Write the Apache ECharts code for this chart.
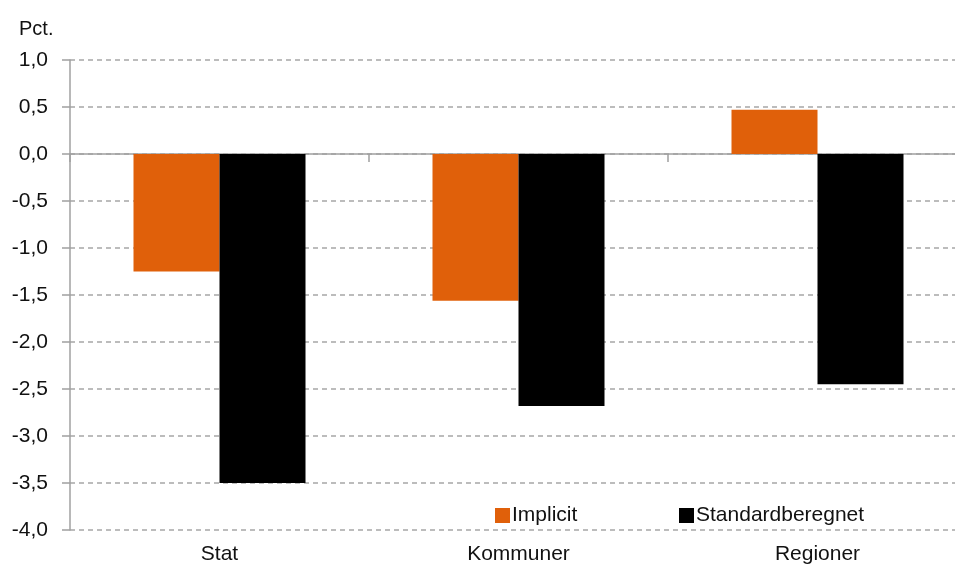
<!DOCTYPE html>
<html>
<head>
<meta charset="utf-8">
<script src="https://cdn.jsdelivr.net/npm/echarts@6/dist/echarts.min.js"></script>
<style>html,body{margin:0;padding:0;background:#fff;overflow:hidden;width:955px;height:572px}#c{width:967px;height:572px}</style>
</head>
<body>
<div id="c"></div>
<script>
const categories = ['Stat', 'Kommuner', 'Regioner'];
const implicitValues = [-1.25, -1.56, 0.47];
const standardValues = [-3.5, -2.68, -2.45];
const seriesNames = ['Implicit', 'Standardberegnet'];
const yTicks = [-4.0, -3.5, -3.0, -2.5, -2.0, -1.5, -1.0, -0.5, 0.0, 0.5, 1.0];

const FONT = '"Liberation Sans", Arial, sans-serif';
const TXT = '#111';
const FS = 21;
const chart = echarts.init(document.getElementById('c'), null, {renderer: 'canvas'});
chart.setOption({
  animation: false,
  backgroundColor: '#fff',
  title: {text: 'Pct.', left: 14, top: 14, textStyle: {fontFamily: FONT, fontSize: 20, fontWeight: 'normal', color: TXT}},
  legend: [
    {data: [seriesNames[0]], left: 490, top: 500, itemWidth: 15, itemHeight: 15, itemGap: 0,
     textStyle: {fontFamily: FONT, fontSize: FS, color: TXT, padding: [0, 0, 0, -3]}, icon: 'rect'},
    {data: [seriesNames[1]], left: 674, top: 500, itemWidth: 15, itemHeight: 15, itemGap: 0,
     textStyle: {fontFamily: FONT, fontSize: FS, color: TXT, padding: [0, 0, 0, -3]}, icon: 'rect'}
  ],
  grid: {left: 70, top: 60, right: 0, bottom: 42, containLabel: false},
  xAxis: [
    {type: 'category', data: categories, position: 'bottom',
     axisLine: {show: false, onZero: false}, axisTick: {show: false},
     axisLabel: {fontFamily: FONT, fontSize: FS, color: TXT, margin: 14}},
    {type: 'category', data: categories, position: 'bottom',
     axisLine: {show: true, onZero: true, lineStyle: {color: '#a0a0a0', width: 1.5}},
     axisTick: {show: true, length: 8, lineStyle: {color: '#a0a0a0', width: 1.5}},
     axisLabel: {show: false}}
  ],
  yAxis: {
    type: 'value', min: yTicks[0], max: yTicks[yTicks.length - 1], interval: 0.5,
    axisLine: {show: true, lineStyle: {color: '#a0a0a0', width: 1.5}},
    axisTick: {show: true, length: 8, lineStyle: {color: '#a0a0a0', width: 1.5}},
    axisLabel: {fontFamily: FONT, fontSize: FS, color: TXT, margin: 22,
      formatter: v => v.toFixed(1).replace('.', ',')},
    splitLine: {show: true, lineStyle: {color: '#a6a6a6', type: [5, 4], width: 1.5}}
  },
  series: [
    {name: seriesNames[0], type: 'bar', xAxisIndex: 0, data: implicitValues, barWidth: 86, barGap: '0%',
     itemStyle: {color: '#e0600a'}},
    {name: seriesNames[1], type: 'bar', xAxisIndex: 0, data: standardValues, barWidth: 86, barGap: '0%',
     itemStyle: {color: '#000000'}}
  ]
});
</script>
</body>
</html>
